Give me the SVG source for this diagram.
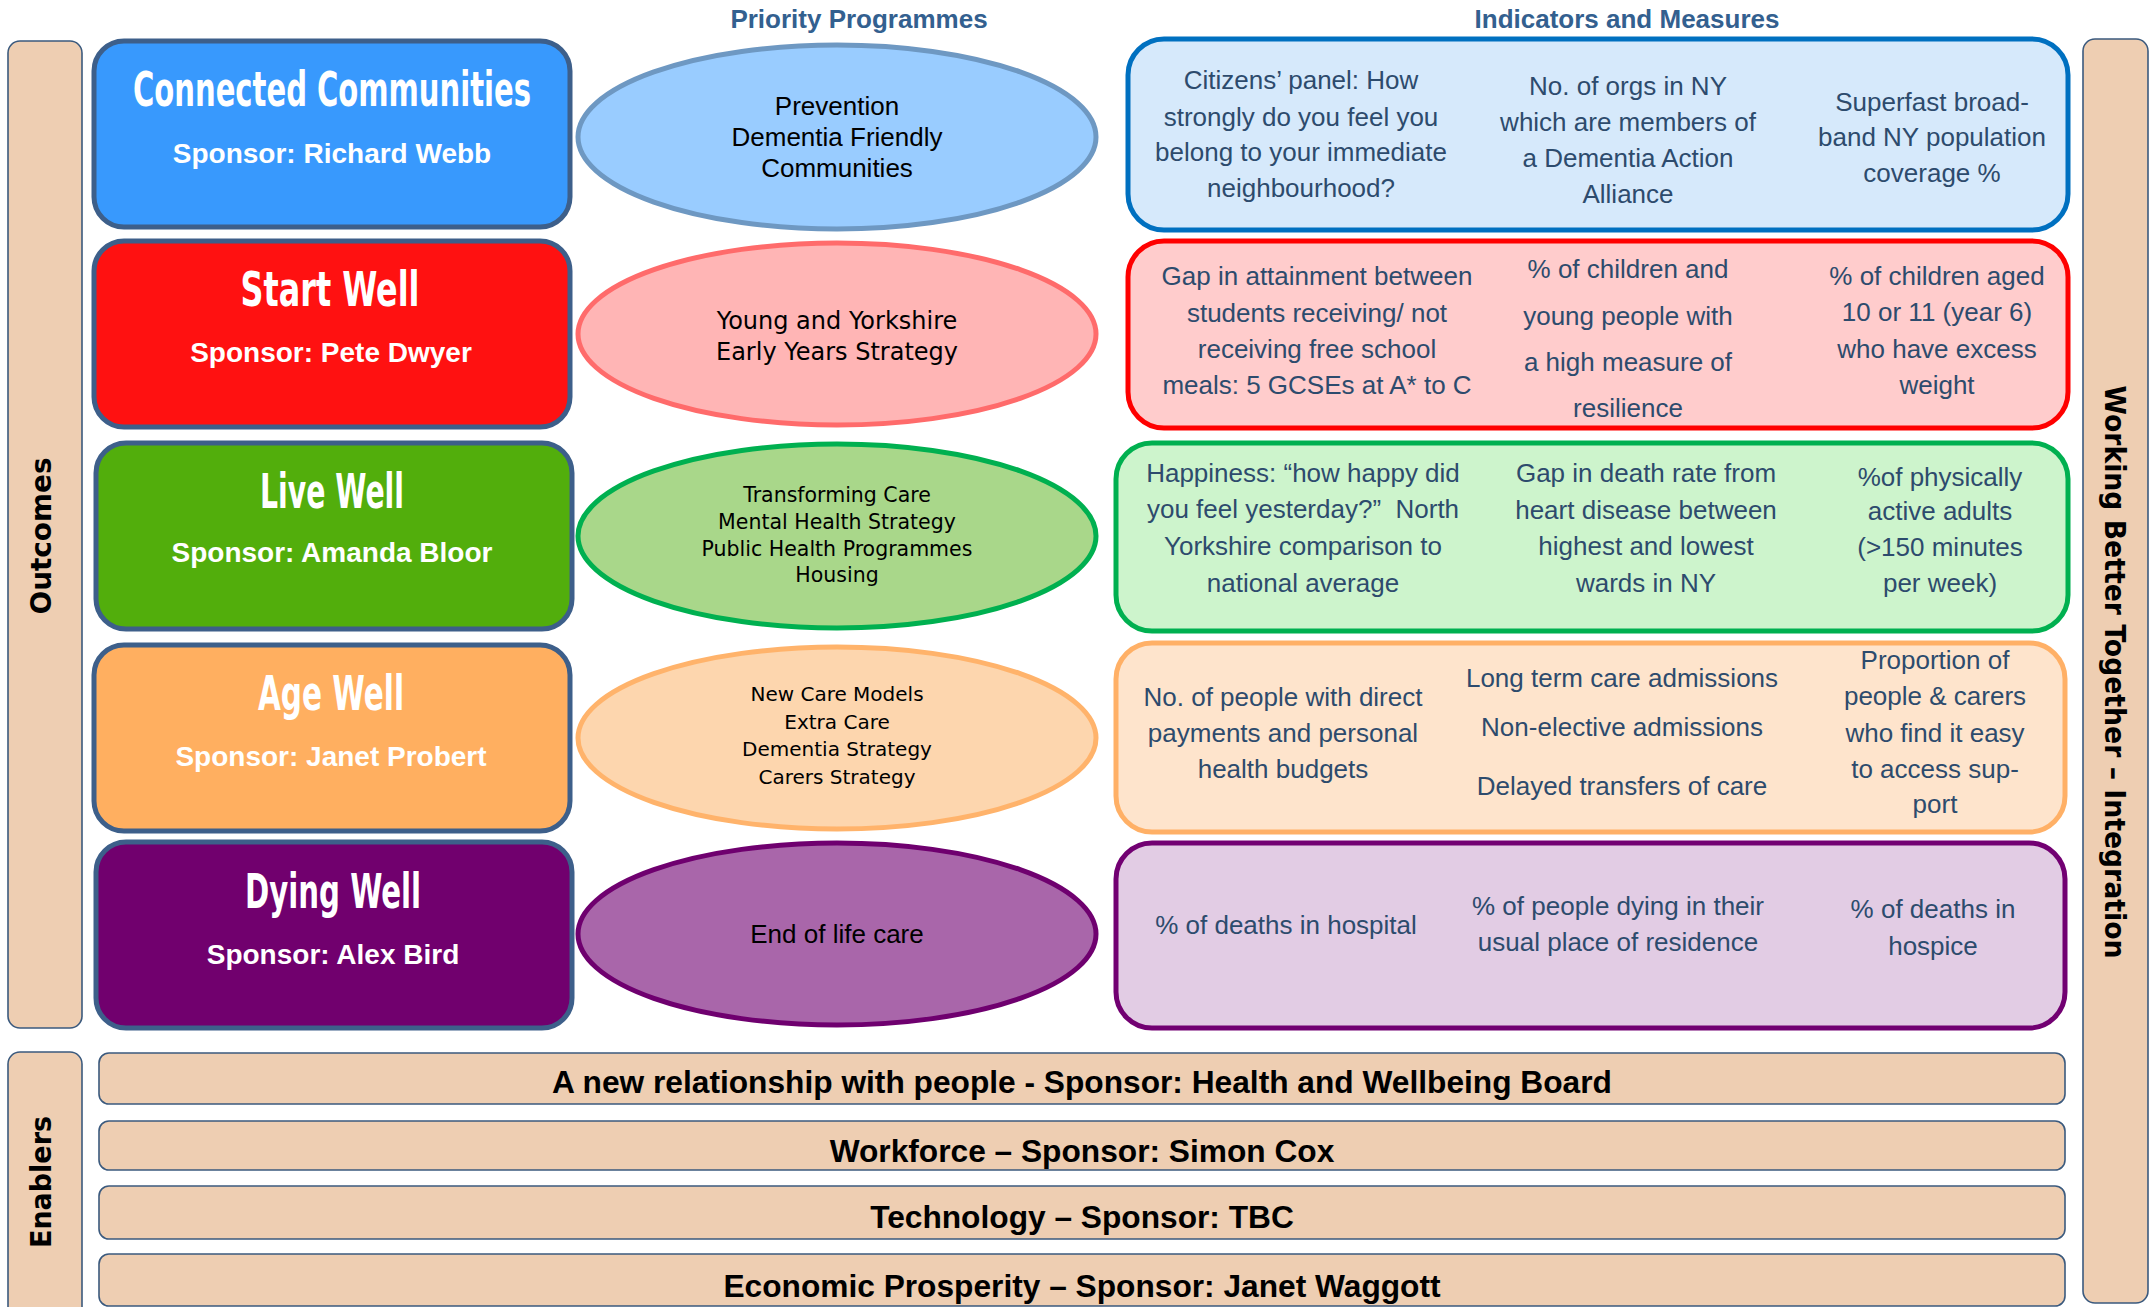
<svg xmlns="http://www.w3.org/2000/svg" width="2156" height="1307" viewBox="0 0 2156 1307">
  <style>
    .band { fill: #EECEB2; stroke: #3B5A7E; stroke-width: 1.6; }
    .outcome { stroke: #3D5F8A; stroke-width: 5; }
    .ttl { font-family: "Liberation Sans Narrow", "DejaVu Sans Condensed", "Liberation Sans", sans-serif; font-weight: bold; font-size: 48px; fill: #ffffff; text-anchor: middle; }
    .spn { font-family: "Liberation Sans", Arial, sans-serif; font-weight: bold; font-size: 28px; fill: #ffffff; text-anchor: middle; }
    .hdr { font-family: "Liberation Sans", Arial, sans-serif; font-weight: bold; font-size: 26px; fill: #33608F; text-anchor: middle; }
    .prog { stroke-width: 5; }
    .pa { font-family: "Liberation Sans", Arial, sans-serif; font-size: 26px; fill: #000000; text-anchor: middle; }
    .pd { font-family: "DejaVu Sans", Verdana, sans-serif; fill: #000000; text-anchor: middle; }
    .ind { stroke-width: 5; }
    .it { font-family: "Liberation Sans", Arial, sans-serif; font-size: 26px; fill: #2D4B6D; text-anchor: middle; }
    .vl { font-family: "DejaVu Sans", Verdana, sans-serif; font-weight: bold; font-size: 29px; fill: #000000; text-anchor: middle; }
    .en { font-family: "Liberation Sans", Arial, sans-serif; font-weight: bold; font-size: 31.7px; fill: #000000; text-anchor: middle; }
  </style>

  <!-- column headings -->
  <g id="headings">
    <text class="hdr" x="859" y="28">Priority Programmes</text>
    <text class="hdr" x="1627" y="28">Indicators and Measures</text>
  </g>

  <!-- side bands -->
  <g id="outcomes-band">
    <rect class="band" x="8" y="41" width="74" height="987" rx="12"/>
    <text class="vl" transform="translate(51 536) rotate(-90)" textLength="157" lengthAdjust="spacingAndGlyphs">Outcomes</text>
  </g>
  <g id="enablers-band">
    <rect class="band" x="8" y="1052" width="74" height="270" rx="12"/>
    <text class="vl" transform="translate(51 1182) rotate(-90)" textLength="132" lengthAdjust="spacingAndGlyphs">Enablers</text>
  </g>
  <g id="integration-band">
    <rect class="band" x="2083" y="39" width="65" height="1264" rx="12"/>
    <text class="vl" transform="translate(2105 672) rotate(90)" textLength="573" lengthAdjust="spacingAndGlyphs">Working Better Together – Integration</text>
  </g>

  <!-- outcome boxes -->
  <g id="connected-communities">
    <rect class="outcome" x="94" y="41" width="476" height="186" rx="30" fill="#3899FD"/>
    <text class="ttl" x="332" y="106" textLength="398" lengthAdjust="spacingAndGlyphs">Connected Communities</text>
    <text class="spn" x="332" y="163">Sponsor: Richard Webb</text>
  </g>
  <g id="start-well">
    <rect class="outcome" x="94" y="241" width="476" height="186" rx="30" fill="#FF1111"/>
    <text class="ttl" x="330" y="306" textLength="179" lengthAdjust="spacingAndGlyphs">Start Well</text>
    <text class="spn" x="331" y="362">Sponsor: Pete Dwyer</text>
  </g>
  <g id="live-well">
    <rect class="outcome" x="96" y="443" width="476" height="186" rx="30" fill="#52AE0C"/>
    <text class="ttl" x="332" y="508" textLength="144" lengthAdjust="spacingAndGlyphs">Live Well</text>
    <text class="spn" x="332" y="562">Sponsor: Amanda Bloor</text>
  </g>
  <g id="age-well">
    <rect class="outcome" x="94" y="645" width="476" height="186" rx="30" fill="#FFAF60"/>
    <text class="ttl" x="331" y="710" textLength="146" lengthAdjust="spacingAndGlyphs">Age Well</text>
    <text class="spn" x="331" y="766">Sponsor: Janet Probert</text>
  </g>
  <g id="dying-well">
    <rect class="outcome" x="96" y="842" width="476" height="186" rx="30" fill="#71006E"/>
    <text class="ttl" x="333" y="908" textLength="176" lengthAdjust="spacingAndGlyphs">Dying Well</text>
    <text class="spn" x="333" y="964">Sponsor: Alex Bird</text>
  </g>

  <!-- priority programmes -->
  <g id="prog-connected">
    <ellipse class="prog" cx="837" cy="137" rx="259" ry="92" fill="#99CCFF" stroke="#6E98C2"/>
    <text class="pa" x="837" y="115">Prevention</text>
    <text class="pa" x="837" y="146">Dementia Friendly</text>
    <text class="pa" x="837" y="177">Communities</text>
  </g>
  <g id="prog-start">
    <ellipse class="prog" cx="837" cy="334" rx="259" ry="91" fill="#FFB5B5" stroke="#FF6B6B"/>
    <text class="pd" x="837" y="329" font-size="24">Young and Yorkshire</text>
    <text class="pd" x="837" y="360" font-size="24">Early Years Strategy</text>
  </g>
  <g id="prog-live">
    <ellipse class="prog" cx="837" cy="536" rx="259" ry="92" fill="#A9D78A" stroke="#00B050"/>
    <text class="pd" x="837" y="502" font-size="20.5">Transforming Care</text>
    <text class="pd" x="837" y="529" font-size="20.5">Mental Health Strategy</text>
    <text class="pd" x="837" y="556" font-size="20.5">Public Health Programmes</text>
    <text class="pd" x="837" y="582" font-size="20.5">Housing</text>
  </g>
  <g id="prog-age">
    <ellipse class="prog" cx="837" cy="738" rx="259" ry="91" fill="#FDD6AE" stroke="#FFB36B"/>
    <text class="pd" x="837" y="701" font-size="20">New Care Models</text>
    <text class="pd" x="837" y="729" font-size="20">Extra Care</text>
    <text class="pd" x="837" y="756" font-size="20">Dementia Strategy</text>
    <text class="pd" x="837" y="784" font-size="20">Carers Strategy</text>
  </g>
  <g id="prog-dying">
    <ellipse class="prog" cx="837" cy="934" rx="259" ry="91" fill="#A966AA" stroke="#6F006F"/>
    <text class="pa" x="837" y="943">End of life care</text>
  </g>

  <!-- indicators and measures -->
  <g id="ind-connected">
    <rect class="ind" x="1128" y="39" width="940" height="191" rx="36" fill="#D6E9FB" stroke="#0070C0"/>
    <text class="it" x="1301" y="89">Citizens’ panel: How</text>
    <text class="it" x="1301" y="126">strongly do you feel you</text>
    <text class="it" x="1301" y="161">belong to your immediate</text>
    <text class="it" x="1301" y="197">neighbourhood?</text>
    <text class="it" x="1628" y="95">No. of orgs in NY</text>
    <text class="it" x="1628" y="131">which are members of</text>
    <text class="it" x="1628" y="167">a Dementia Action</text>
    <text class="it" x="1628" y="203">Alliance</text>
    <text class="it" x="1932" y="111">Superfast broad-</text>
    <text class="it" x="1932" y="146">band NY population</text>
    <text class="it" x="1932" y="182">coverage %</text>
  </g>
  <g id="ind-start">
    <rect class="ind" x="1128" y="241" width="940" height="187" rx="36" fill="#FFCCCC" stroke="#FF0000"/>
    <text class="it" x="1317" y="285">Gap in attainment between</text>
    <text class="it" x="1317" y="322">students receiving/ not</text>
    <text class="it" x="1317" y="358">receiving free school</text>
    <text class="it" x="1317" y="394">meals: 5 GCSEs at A* to C</text>
    <text class="it" x="1628" y="278">% of children and</text>
    <text class="it" x="1628" y="325">young people with</text>
    <text class="it" x="1628" y="371">a high measure of</text>
    <text class="it" x="1628" y="417">resilience</text>
    <text class="it" x="1937" y="285">% of children aged</text>
    <text class="it" x="1937" y="321">10 or 11 (year 6)</text>
    <text class="it" x="1937" y="358">who have excess</text>
    <text class="it" x="1937" y="394">weight</text>
  </g>
  <g id="ind-live">
    <rect class="ind" x="1116" y="443" width="952" height="188" rx="36" fill="#CDF4CC" stroke="#00B050"/>
    <text class="it" x="1303" y="482">Happiness: “how happy did</text>
    <text class="it" x="1303" y="518" xml:space="preserve">you feel yesterday?”  North</text>
    <text class="it" x="1303" y="555">Yorkshire comparison to</text>
    <text class="it" x="1303" y="592">national average</text>
    <text class="it" x="1646" y="482">Gap in death rate from</text>
    <text class="it" x="1646" y="519">heart disease between</text>
    <text class="it" x="1646" y="555">highest and lowest</text>
    <text class="it" x="1646" y="592">wards in NY</text>
    <text class="it" x="1940" y="486">%of physically</text>
    <text class="it" x="1940" y="520">active adults</text>
    <text class="it" x="1940" y="556">(&gt;150 minutes</text>
    <text class="it" x="1940" y="592">per week)</text>
  </g>
  <g id="ind-age">
    <rect class="ind" x="1116" y="643" width="949" height="189" rx="36" fill="#FEE4CC" stroke="#FFB066"/>
    <text class="it" x="1283" y="706">No. of people with direct</text>
    <text class="it" x="1283" y="742">payments and personal</text>
    <text class="it" x="1283" y="778">health budgets</text>
    <text class="it" x="1622" y="687">Long term care admissions</text>
    <text class="it" x="1622" y="736">Non-elective admissions</text>
    <text class="it" x="1622" y="795">Delayed transfers of care</text>
    <text class="it" x="1935" y="669">Proportion of</text>
    <text class="it" x="1935" y="705">people &amp; carers</text>
    <text class="it" x="1935" y="742">who find it easy</text>
    <text class="it" x="1935" y="778">to access sup-</text>
    <text class="it" x="1935" y="813">port</text>
  </g>
  <g id="ind-dying">
    <rect class="ind" x="1116" y="843" width="949" height="185" rx="36" fill="#E2CCE4" stroke="#720072"/>
    <text class="it" x="1286" y="934">% of deaths in hospital</text>
    <text class="it" x="1618" y="915">% of people dying in their</text>
    <text class="it" x="1618" y="951">usual place of residence</text>
    <text class="it" x="1933" y="918">% of deaths in</text>
    <text class="it" x="1933" y="955">hospice</text>
  </g>

  <!-- enablers -->
  <g id="enabler-relationship">
    <rect class="band" x="99" y="1053" width="1966" height="51" rx="10"/>
    <text class="en" x="1082" y="1093">A new relationship with people - Sponsor: Health and Wellbeing Board</text>
  </g>
  <g id="enabler-workforce">
    <rect class="band" x="99" y="1121" width="1966" height="49" rx="10"/>
    <text class="en" x="1082" y="1162">Workforce – Sponsor: Simon Cox</text>
  </g>
  <g id="enabler-technology">
    <rect class="band" x="99" y="1186" width="1966" height="53" rx="10"/>
    <text class="en" x="1082" y="1228">Technology – Sponsor: TBC</text>
  </g>
  <g id="enabler-economy">
    <rect class="band" x="99" y="1254" width="1966" height="52" rx="10"/>
    <text class="en" x="1082" y="1297">Economic Prosperity – Sponsor: Janet Waggott</text>
  </g>

  <!-- no connectors in this layout -->
  <g id="connectors"/>
</svg>
